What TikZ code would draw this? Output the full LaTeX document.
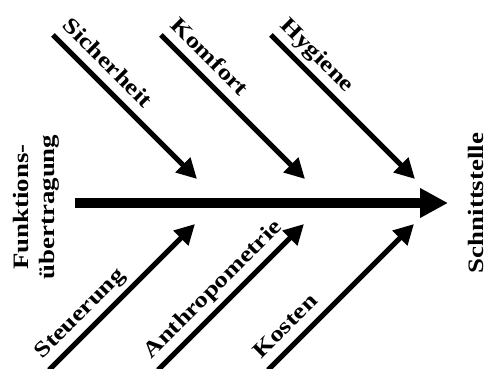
\documentclass[tikz,border=0pt]{standalone}
\usepackage{fontspec}
\usepackage{graphicx}
\setmainfont{Liberation Serif}
\usetikzlibrary{arrows.meta,calc}
\newcommand{\wide}[1]{\scalebox{1.22}[1]{#1}}
\tikzset{
  branch/.style={line width=5pt, -{Triangle[length=20pt,width=20pt]}},
  spine/.style={line width=10pt, -{Triangle[length=28pt,width=28pt]}},
  lbl/.style={font=\bfseries\fontsize{22pt}{26pt}\selectfont, inner sep=0pt},
}
\begin{document}
\begin{tikzpicture}[x=1pt,y=1pt]
\useasboundingbox (0,0) rectangle (484,369);
% spine
\coordinate (m0) at (75,166);
\coordinate (m1) at (448,166);
\draw[spine] (m0) -- (m1);
\node[lbl, rotate=90, anchor=base] (schnitt) at (483,166) {\wide{Schnittstelle}};
\node[lbl, rotate=90, align=center, anchor=center] (funk) at (36,162) {\wide{Funktions-}\\\wide{übertragung}};
% upper branches
\coordinate (s1) at (53,334);  \coordinate (t1) at (197,190);
\coordinate (s2) at (161,334); \coordinate (t2) at (305,190);
\coordinate (s3) at (271,334); \coordinate (t3) at (415,190);
\draw[branch] (s1) -- (t1);
\draw[branch] (s2) -- (t2);
\draw[branch] (s3) -- (t3);
\node[lbl, rotate=-45, anchor=base west] (sich) at ($(s1)+(8.5,8.5)$) {\wide{Sicherheit}};
\node[lbl, rotate=-45, anchor=base west] (komf) at ($(s2)+(8.5,8.5)$) {\wide{Komfort}};
\node[lbl, rotate=-45, anchor=base west] (hyg) at ($(s3)+(8.5,8.5)$) {\wide{Hygiene}};
% lower branches
\coordinate (b1) at (49,-1);  \coordinate (u1) at (195,145);
\coordinate (b2) at (158,-1); \coordinate (u2) at (304,145);
\coordinate (b3) at (268,-1); \coordinate (u3) at (414,145);
\draw[branch] (b1) -- (u1);
\draw[branch] (b2) -- (u2);
\draw[branch] (b3) -- (u3);
\node[lbl, rotate=45, anchor=base west] (steu) at ($(b1)+(-8.5+2,8.5+2)$) {\wide{Steuerung}};
\node[lbl, rotate=45, anchor=base west] (anth) at ($(b2)+(-8.5+2,8.5+2)$) {\wide{Anthropometrie}};
\node[lbl, rotate=45, anchor=base west] (kost) at ($(b3)+(-8.5+2,8.5+2)$) {\wide{Kosten}};
\end{tikzpicture}
\end{document}
